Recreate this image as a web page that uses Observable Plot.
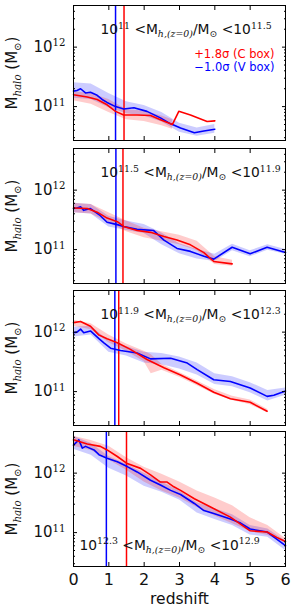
<!DOCTYPE html>
<html><head><meta charset="utf-8">
<script src="https://cdn.jsdelivr.net/npm/d3@7"></script>
<script src="https://cdn.jsdelivr.net/npm/@observablehq/plot@0.6"></script>
<style>
body{margin:0;background:#fff;}
#chart{width:293px;height:615px;overflow:hidden;font-family:"DejaVu Sans";}
#chart svg{display:block;}
</style></head><body><div id="chart"></div>
<script>
// ---------- axes / labels ----------
const redshiftTicks = [0, 1, 2, 3, 4, 5, 6];
const massTicks = [1e11, 1e12];
const minorMassTicks = [3e10,4e10,5e10,6e10,7e10,8e10,9e10,2e11,3e11,4e11,5e11,6e11,7e11,8e11,9e11,2e12,3e12,4e12,5e12];
const binLo = ["11", "11.5", "11.9", "12.3"];
const binHi = ["11.5", "11.9", "12.3", "12.9"];
const yLabel = "M_{halo} (M_{⊙})";
const xLabel = "redshift";
const legendRed = "+1.8σ (C box)";
const legendBlue = "−1.0σ (V box)";
const zMarkBlue = [1.19, 1.20, 1.17, 0.93];
const zMarkRed = [1.43, 1.40, 1.28, 1.50];

// ---------- panel 1 (log10 M_halo) ----------
const p1BlueZ = [0,0.1,0.2,0.34,0.48,0.67,0.81,0.95,1.19,1.42,1.71,2.08,2.46,2.75,3.03,3.42,3.69,4.0];
const p1BlueLogM = [11.26,11.27,11.30,11.23,11.24,11.19,11.12,11.07,11.0,10.96,10.98,10.92,10.81,10.71,10.64,10.56,10.59,10.62];
const p1RedZ = [0,0.39,0.67,0.95,1.19,1.42,1.8,2.18,2.46,2.8,2.98,3.31,3.78,4.0];
const p1RedLogM = [11.20,11.16,11.12,11.03,10.92,10.86,10.86,10.85,10.78,10.70,10.92,10.86,10.75,10.76];
const p1BlueBandZ = [0,0.5,1.0,1.5,2.0,2.5,3.0,3.5,4.0];
const p1BlueBandLo = [11.14,11.12,10.98,10.88,10.84,10.74,10.57,10.50,10.55];
const p1BlueBandHi = [11.40,11.38,11.22,11.08,11.02,10.90,10.72,10.64,10.70];
const p1RedBandZ = [0,0.5,1.0,1.5,2.0,2.5,2.8];
const p1RedBandLo = [11.10,11.04,10.90,10.78,10.75,10.68,10.62];
const p1RedBandHi = [11.25,11.22,11.12,10.95,10.92,10.84,10.78];

// ---------- panel 2 ----------
const p2BlueZ = [0,0.1,0.2,0.29,0.48,0.76,0.95,1.24,1.42,1.8,2.27,2.56,2.93,3.31,3.69,3.97,4.49,5.0,5.48,6.0];
const p2BlueLogM = [11.69,11.70,11.72,11.66,11.69,11.57,11.46,11.42,11.39,11.34,11.32,11.16,11.02,10.97,10.89,10.84,11.04,10.93,11.04,10.95];
const p2RedZ = [0,0.39,0.67,0.95,1.24,1.42,1.8,2.18,2.56,2.93,3.31,3.69,3.97,4.49];
const p2RedLogM = [11.70,11.69,11.63,11.53,11.47,11.39,11.32,11.29,11.22,11.16,11.08,10.95,10.80,10.76];
const p2BlueBandZ = [0,0.5,1,1.5,2,2.5,3,3.5,4,4.5,5,5.5,6];
const p2BlueBandLo = [11.62,11.60,11.38,11.32,11.27,11.08,10.93,10.84,10.80,10.98,10.88,10.99,10.92];
const p2BlueBandHi = [11.78,11.76,11.56,11.48,11.42,11.28,11.10,11.00,10.92,11.09,10.98,11.08,11.00];
const p2RedBandZ = [0,0.5,1,1.5,2,2.5,3,3.5,4,4.5];
const p2RedBandLo = [11.62,11.60,11.45,11.30,11.20,11.14,11.08,10.98,10.75,10.72];
const p2RedBandHi = [11.78,11.76,11.62,11.48,11.36,11.30,11.24,11.14,10.88,10.82];

// ---------- panel 3 ----------
const p3BlueZ = [0,0.1,0.2,0.29,0.48,0.72,0.86,1.05,1.33,1.8,2.18,2.75,3.22,3.5,3.97,4.44,5.0,5.48,5.67,6.0];
const p3BlueLogM = [11.99,12.0,12.05,11.99,12.02,11.89,11.82,11.73,11.69,11.65,11.55,11.56,11.48,11.37,11.20,11.17,11.06,10.92,10.94,11.01];
const p3RedZ = [0,0.2,0.48,0.72,0.95,1.24,1.61,2.08,2.56,3.03,3.5,3.97,4.44,5.0,5.48];
const p3RedLogM = [12.16,12.18,12.10,11.95,11.89,11.82,11.71,11.54,11.40,11.28,11.14,10.99,10.88,10.82,10.67];
const p3BlueBandZ = [0,0.5,1,1.5,2,2.5,3,3.5,4,4.5,5,5.5,6];
const p3BlueBandLo = [11.92,11.95,11.66,11.60,11.48,11.45,11.38,11.28,11.12,11.08,10.98,10.84,10.94];
const p3BlueBandHi = [12.08,12.10,11.85,11.76,11.66,11.64,11.58,11.48,11.30,11.25,11.15,11.02,11.06];
const p3RedBandZ = [0,0.5,1,1.5,2,2.2,2.5,3,3.5,4,4.5,5,5.5];
const p3RedBandLo = [12.10,12.04,11.82,11.68,11.50,11.30,11.36,11.24,11.10,10.95,10.85,10.78,10.64];
const p3RedBandHi = [12.20,12.14,11.95,11.80,11.68,11.62,11.46,11.32,11.18,11.03,10.92,10.86,10.70];

// ---------- panel 4 ----------
const p4BlueZ = [0,0.15,0.25,0.34,0.58,0.72,0.95,1.24,1.52,1.8,2.18,2.46,2.75,3.03,3.42,3.69,3.97,4.44,4.73,5.0,5.48,5.75,6.0];
const p4BlueLogM = [12.47,12.56,12.42,12.45,12.39,12.31,12.25,12.19,12.11,12.02,11.88,11.80,11.71,11.64,11.49,11.37,11.32,11.23,11.16,11.06,11.01,10.89,10.78];
const p4RedZ = [0,0.39,0.76,0.95,1.24,1.52,1.9,2.18,2.46,2.65,2.84,3.03,3.42,3.88,4.44,5.0,5.48,5.75,6.0];
const p4RedLogM = [12.56,12.49,12.45,12.39,12.28,12.16,12.08,11.97,11.85,11.85,11.77,11.71,11.57,11.43,11.26,11.03,11.01,10.92,10.85];
const p4BlueBandZ = [0,0.5,1,1.5,2,2.5,3,3.5,4,4.5,5,5.5,6];
const p4BlueBandLo = [12.40,12.30,12.08,11.95,11.78,11.68,11.55,11.33,11.22,11.12,10.96,10.92,10.70];
const p4BlueBandHi = [12.62,12.50,12.28,12.15,12.00,11.85,11.70,11.50,11.40,11.30,11.12,11.06,10.86];
const p4RedBandZ = [0,0.5,1,1.5,2,2.5,3,3.5,4,4.5,5,5.5,6];
const p4RedBandLo = [12.45,12.38,12.22,12.05,11.85,11.70,11.58,11.42,11.28,11.15,11.02,10.95,10.82];
const p4RedBandHi = [12.62,12.55,12.45,12.26,12.10,11.98,11.85,11.70,11.58,11.45,11.25,11.12,10.90];

// ---------- build ----------
const line = (z, lm) => z.map((d, i) => ({z: d, m: 10 ** lm[i]}));
const band = (z, lo, hi) => z.map((d, i) => ({z: d, lo: 10 ** lo[i], hi: 10 ** hi[i]}));

const panels = [
  {blue: line(p1BlueZ, p1BlueLogM), red: line(p1RedZ, p1RedLogM), blueBand: band(p1BlueBandZ, p1BlueBandLo, p1BlueBandHi), redBand: band(p1RedBandZ, p1RedBandLo, p1RedBandHi)},
  {blue: line(p2BlueZ, p2BlueLogM), red: line(p2RedZ, p2RedLogM), blueBand: band(p2BlueBandZ, p2BlueBandLo, p2BlueBandHi), redBand: band(p2RedBandZ, p2RedBandLo, p2RedBandHi)},
  {blue: line(p3BlueZ, p3BlueLogM), red: line(p3RedZ, p3RedLogM), blueBand: band(p3BlueBandZ, p3BlueBandLo, p3BlueBandHi), redBand: band(p3RedBandZ, p3RedBandLo, p3RedBandHi)},
  {blue: line(p4BlueZ, p4BlueLogM), red: line(p4RedZ, p4RedLogM), blueBand: band(p4BlueBandZ, p4BlueBandLo, p4BlueBandHi), redBand: band(p4RedBandZ, p4RedBandLo, p4RedBandHi)}
];

const layout = [
  {height: 144, mt: 5, mb: 4},
  {height: 142, mt: 4, mb: 3},
  {height: 141, mt: 4, mb: 2},
  {height: 188, mt: 4, mb: 49}
];

const BLUE = "#0000ff", RED = "#ff0000";

function tickMarks() {
  return [
    Plot.axisY({ticks: massTicks, anchor: "left", tickSize: 4, insetLeft: 4, fill: "none", stroke: "#000", label: null}),
    Plot.axisY({ticks: massTicks, anchor: "right", tickSize: 4, insetRight: 4, fill: "none", stroke: "#000", label: null}),
    Plot.axisY({ticks: minorMassTicks, anchor: "left", tickSize: 2, insetLeft: 2, fill: "none", stroke: "#000", label: null}),
    Plot.axisY({ticks: minorMassTicks, anchor: "right", tickSize: 2, insetRight: 2, fill: "none", stroke: "#000", label: null}),
    Plot.axisX({ticks: redshiftTicks, anchor: "bottom", tickSize: 4, insetBottom: 4, fill: "none", stroke: "#000", label: null}),
    Plot.axisX({ticks: redshiftTicks, anchor: "top", tickSize: 4, insetTop: 4, fill: "none", stroke: "#000", label: null})
  ];
}

const chart = document.getElementById("chart");
panels.forEach((P, i) => {
  const L = layout[i];
  const last = i === 3;
  const title = `10^{${binLo[i]}} <M_{h,(z=0)}/M_{⊙} <10^{${binHi[i]}}`;
  const marks = [
    Plot.areaY(P.blueBand, {x: "z", y1: "lo", y2: "hi", fill: BLUE, fillOpacity: 0.2}),
    Plot.areaY(P.redBand, {x: "z", y1: "lo", y2: "hi", fill: RED, fillOpacity: 0.2}),
    Plot.ruleX([zMarkBlue[i]], {stroke: BLUE, strokeWidth: 1.5}),
    Plot.ruleX([zMarkRed[i]], {stroke: RED, strokeWidth: 1.5}),
    Plot.line(P.blue, {x: "z", y: "m", stroke: BLUE, strokeWidth: 1.6}),
    Plot.line(P.red, {x: "z", y: "m", stroke: RED, strokeWidth: 1.6}),
    Plot.frame({stroke: "#000", strokeWidth: 1}),
    ...tickMarks(),
    Plot.axisY({ticks: massTicks, anchor: "left", tickSize: 0, tickPadding: 8, fontSize: 15, fill: "#111", label: null,
      tickFormat: d => `10^{${Math.round(Math.log10(d))}}`}),
    Plot.text([yLabel], {frameAnchor: "left", dx: -61, rotate: -90, fontSize: 15, fill: "#111"}),
    last
      ? Plot.text([title], {frameAnchor: "bottom-left", textAnchor: "start", dx: 6, dy: -17, fontSize: 13.8, fill: "#111"})
      : Plot.text([title], {frameAnchor: "top-left", textAnchor: "start", dx: 27, dy: 19, fontSize: 13.8, fill: "#111"})
  ];
  if (i === 0) {
    marks.push(Plot.text([legendRed], {frameAnchor: "top-right", textAnchor: "end", dx: -11, dy: 44.5, fontSize: 11.5, fill: RED}));
    marks.push(Plot.text([legendBlue], {frameAnchor: "top-right", textAnchor: "end", dx: -11, dy: 57, fontSize: 11.5, fill: BLUE}));
  }
  if (last) {
    marks.push(Plot.axisX({ticks: redshiftTicks, anchor: "bottom", tickSize: 0, tickPadding: 7, fontSize: 16, fill: "#111", label: null, tickFormat: d => String(d)}));
    marks.push(Plot.text([xLabel], {frameAnchor: "bottom", dy: 37, fontSize: 15.5, fill: "#111"}));
  }
  const svg = Plot.plot({
    width: 293, height: L.height,
    marginLeft: 73, marginRight: 8, marginTop: L.mt, marginBottom: L.mb,
    style: {fontFamily: "DejaVu Sans", background: "transparent", overflow: "visible"},
    x: {domain: [0, 6], axis: null},
    y: {type: "log", domain: [10 ** 10.43, 10 ** 12.70], axis: null},
    marks
  });
  chart.appendChild(svg);
});

// rich text: ^{..} superscript, _{..} subscript
const SVGNS = "http://www.w3.org/2000/svg";
chart.querySelectorAll("text").forEach(el => {
  const s = el.textContent;
  if (!/[\^_]\{/.test(s)) return;
  const isYLabel = s === yLabel;
  const fs = parseFloat(el.closest("[font-size]")?.getAttribute("font-size") || el.getAttribute("font-size") || 14);
  const re = /([\^_])\{([^}]*)\}/g;
  const parts = [];
  let last = 0, m;
  while ((m = re.exec(s))) {
    if (m.index > last) parts.push({t: s.slice(last, m.index), k: ""});
    parts.push({t: m[2], k: m[1]});
    last = re.lastIndex;
  }
  if (last < s.length) parts.push({t: s.slice(last), k: ""});
  while (el.firstChild) el.removeChild(el.firstChild);
  let cur = 0;
  const supShift = -0.38 * fs, subShift = 0.22 * fs;
  for (const p of parts) {
    const ts = document.createElementNS(SVGNS, "tspan");
    const target = p.k === "^" ? supShift : p.k === "_" ? subShift : 0;
    if (target !== cur) ts.setAttribute("dy", (target - cur).toFixed(2));
    cur = target;
    if (p.k) {
      ts.setAttribute("font-size", (0.68 * fs).toFixed(1));
      ts.setAttribute("font-family", "DejaVu Serif");
      if (p.k === "_" && p.t !== "⊙") ts.setAttribute("font-style", "italic");
    }
    ts.textContent = p.t;
    el.appendChild(ts);
  }
  if (isYLabel) {
    // centre the rotated label on its panel explicitly
    el.setAttribute("text-anchor", "start");
    const w = el.getComputedTextLength();
    el.setAttribute("x", (-w / 2).toFixed(2));
  }
});
</script>
</body></html>
